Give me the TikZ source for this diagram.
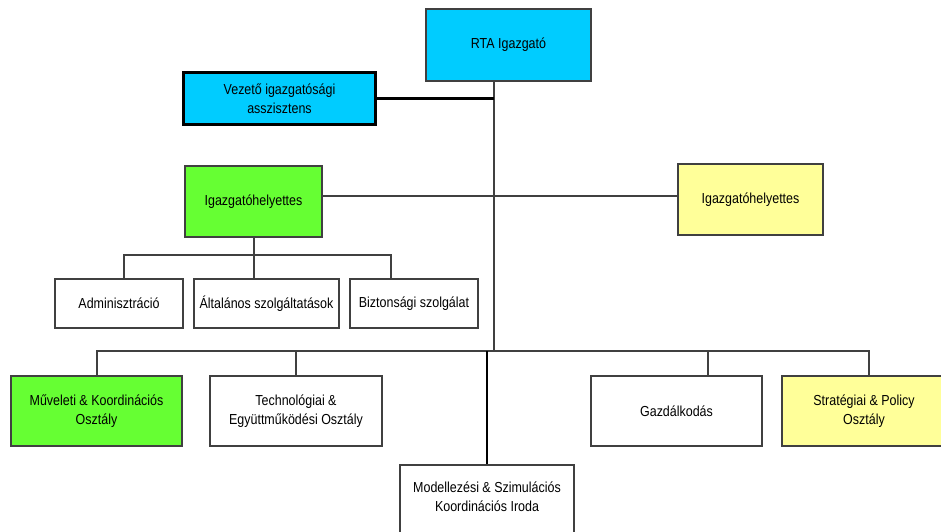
\documentclass[tikz,border=0pt]{standalone}
\usepackage{fontspec}
\setmainfont{Liberation Sans}[FakeStretch=0.86]
\definecolor{boxcyan}{HTML}{00CCFF}
\definecolor{boxgreen}{HTML}{66FF33}
\definecolor{boxyellow}{HTML}{FFFF99}
\definecolor{edgegray}{HTML}{404040}
\tikzset{
  unit/.style={rectangle, draw=edgegray, line width=2pt, fill=white, align=center, anchor=north west, inner sep=1pt, font=\fontsize{14.5}{19}\selectfont},
  conn/.style={draw=edgegray, line width=2pt},
}
\begin{document}
\begin{tikzpicture}[x=1pt, y=-1pt]

\useasboundingbox (0,0) rectangle (941,531);

%% top
\node at (425,8) [unit, fill=boxcyan, minimum width=165pt, minimum height=72pt] (rta) {RTA Igazgató};
\node at (182,71) [unit, fill=boxcyan, draw=black, line width=3pt, minimum width=192pt, minimum height=52pt] (vezeto) {Vezető igazgatósági\\asszisztens};

%% deputies
\node at (184,165) [unit, fill=boxgreen, minimum width=137pt, minimum height=71pt] (helyettes1) {Igazgatóhelyettes};
\node at (677,163) [unit, fill=boxyellow, minimum width=145pt, minimum height=71pt] (helyettes2) {Igazgatóhelyettes};

\node at (54,278) [unit, minimum width=128pt, minimum height=49pt] (admin) {Adminisztráció};
\node at (193,278) [unit, minimum width=145pt, minimum height=49pt] (altalanos) {Általános szolgáltatások};
\node at (349,278) [unit, minimum width=128pt, minimum height=49pt] (biztonsag) {Biztonsági szolgálat};

%% departments
\node at (10,375) [unit, fill=boxgreen, minimum width=171pt, minimum height=70pt] (muveleti) {Műveleti \& Koordinációs\\Osztály};
\node at (209,375) [unit, minimum width=172pt, minimum height=70pt] (techno) {Technológiai \&\\Együttműködési Osztály};
\node at (590,375) [unit, minimum width=171pt, minimum height=70pt] (gazd) {Gazdálkodás};
\node at (781,375) [unit, fill=boxyellow, minimum width=164pt, minimum height=70pt] (strat) {Stratégiai \& Policy\\Osztály};
\node at (399,464) [unit, minimum width=174pt, minimum height=80pt, text depth=16pt] (modell) {Modellezési \& Szimulációs\\Koordinációs Iroda};

\coordinate (trunktop) at (494,82);
\coordinate (trunkbus) at (494,351);
\coordinate (deputyline) at (494,196);

\begin{scope}[on background layer/.try]
	\draw [conn] (trunktop) -- (trunkbus);
	\draw [conn, draw=black, line width=2.5pt] (vezeto.east) -- (vezeto.east -| trunktop);
	\draw [conn] (helyettes1.east |- deputyline) -- (helyettes2.west |- deputyline);

	\draw [conn] (helyettes1.south) -- ++(0,17) coordinate (greenbus);
	\draw [conn] ([xshift=5pt]admin.north) |- (greenbus) -| ([xshift=-23pt]biztonsag.north);
	\draw [conn] (greenbus) -- (greenbus |- altalanos.north);

	\draw [conn] (muveleti.north) |- (trunkbus) -| ([xshift=5pt]strat.north);
	\draw [conn] (techno.north) -- (techno.north |- trunkbus);
	\draw [conn] ([xshift=31pt]gazd.north) -- ([xshift=31pt]gazd.north |- trunkbus);
	\draw [conn, draw=black, line width=2.5pt] (modell.north) -- (modell.north |- trunkbus);
\end{scope}

\end{tikzpicture}
\end{document}
